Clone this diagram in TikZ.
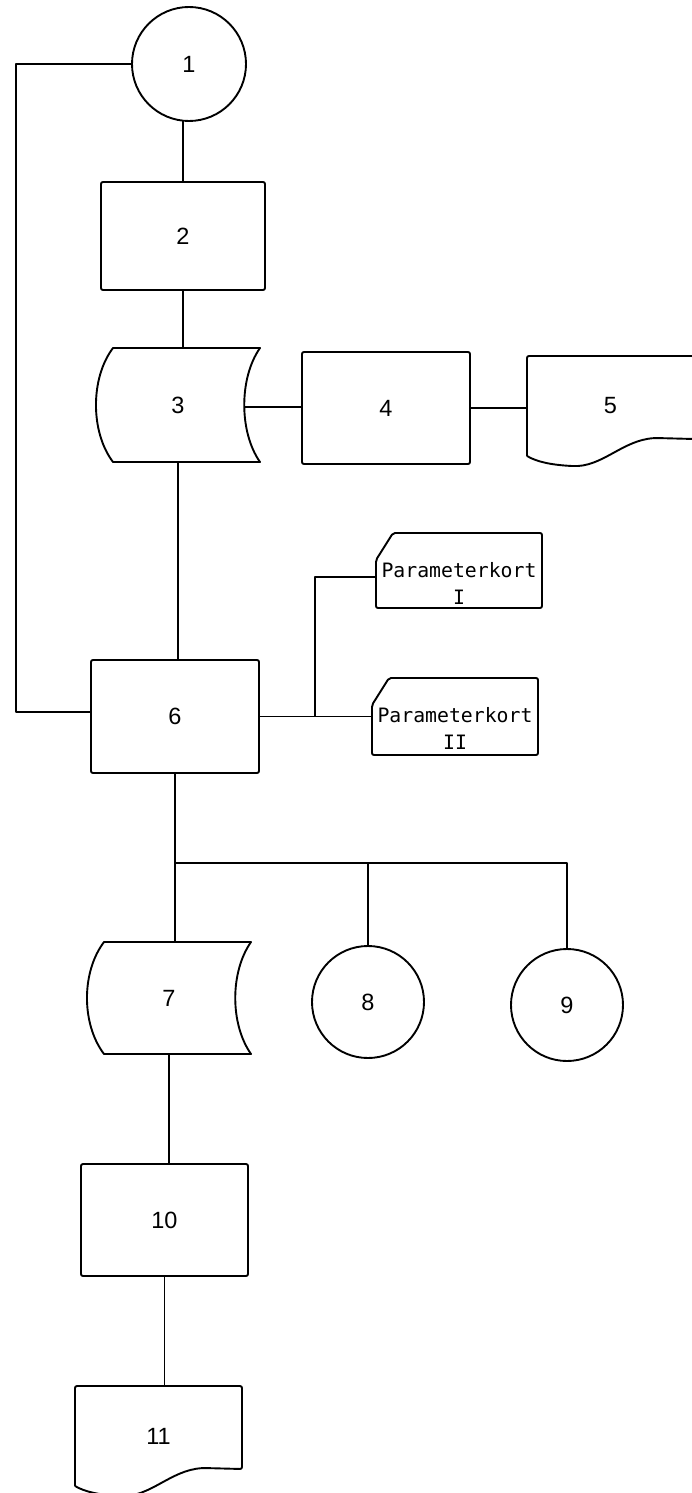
\documentclass[tikz,border=0pt]{standalone}
\usepackage{fontspec}
\setmainfont{Liberation Sans}
\newfontfamily\cardfont{DejaVu Sans Mono}
\usetikzlibrary{calc}

\tikzset{
  line/.style={line width=1.9pt, line join=round},
  shapebox/.style={draw=none, rectangle, inner sep=0pt, outer sep=0pt},
  procbox/.style={draw, line width=1.9pt, rectangle, rounded corners=2pt, inner sep=0pt, outer sep=0pt},
  circ/.style={draw, line width=1.9pt, circle, inner sep=0pt, outer sep=0pt},
  numfont/.style={font=\fontsize{23.5}{28}\selectfont},
  cardtext/.style={font=\cardfont\fontsize{19.8}{27}\selectfont, align=center, inner sep=0pt},
}

% stored-data outline: left side bulges out, right side curves in
\newcommand{\storedshape}[1]{%
  \draw[line] ($(#1.north west)+(17,0)$) -- (#1.north east)
    .. controls ($(#1.north east)+(-21,30)$) and ($(#1.south east)+(-21,-30)$) .. (#1.south east)
    -- ($(#1.south west)+(17,0)$)
    .. controls ($(#1.south west)+(-5.7,-30)$) and ($(#1.north west)+(-5.7,30)$) .. cycle;}
% document outline with wavy bottom
\newcommand{\docshape}[1]{%
  \draw[line, rounded corners=2pt] (#1.south west) -- (#1.north west) -- (#1.north east) -- ($(#1.north east)+(0,83)$) -- ($(#1.north west)+(129,82)$)
    [sharp corners] .. controls ($(#1.north west)+(95,84)$) and ($(#1.north west)+(75,112)$) .. ($(#1.north west)+(45,110)$)
    .. controls ($(#1.north west)+(25,109)$) and ($(#1.north west)+(10,106)$) .. (#1.south west);}
% punched card outline with cut corner
\newcommand{\cardshape}[1]{%
  \draw[line, rounded corners=2pt] ($(#1.north west)+(0,27)$) -- ($(#1.north west)+(17,0)$) -- (#1.north east) -- (#1.south east) -- (#1.south west) -- cycle;}

\begin{document}
\begin{tikzpicture}[x=1pt, y=-1pt]
\useasboundingbox (0,0) rectangle (691,1493);

% nodes
\node[circ, numfont, minimum size=114] (n1) at (189,64) {1};
\node[procbox, numfont, minimum width=164, minimum height=108] (n2) at (183,236) {2};
\node[shapebox, numfont, minimum width=164, minimum height=114] (n3) at (178,405) {3};
\node[procbox, numfont, minimum width=168, minimum height=112] (n4) at (386,408) {4};
\node[shapebox, numfont, minimum width=167, minimum height=100] (n5) at (610.5,406) {5};
\node[procbox, numfont, minimum width=168, minimum height=113] (n6) at (175,716.5) {6};
\node[shapebox, minimum width=166, minimum height=75] (P1) at (459,570.5) {};
\node[cardtext] (P1t) at ($(P1.center)+(0,13)$) {Parameterkort\\I};
\node[shapebox, minimum width=166, minimum height=77] (P2) at (455,716.5) {};
\node[cardtext] (P2t) at ($(P2.center)+(0,12)$) {Parameterkort\\II};
\node[shapebox, numfont, minimum width=164, minimum height=112] (n7) at (169,998) {7};
\node[circ, numfont, minimum size=112] (n8) at (368,1002) {8};
\node[circ, numfont, minimum size=112] (n9) at (567,1005) {9};
\node[procbox, numfont, minimum width=167, minimum height=112] (n10) at (164.5,1220) {10};
\node[shapebox, numfont, minimum width=167, minimum height=100] (n11) at (158.5,1436) {11};

% outlines
\storedshape{n3}
\storedshape{n7}
\docshape{n5}
\docshape{n11}
\cardshape{P1}
\cardshape{P2}

% connectors
\draw[line] (n2.north |- n1.south) -- (n2.north);
\draw[line] (n2.south) -- (n2.south |- n3.north);
\coordinate (n3c) at ($(n3.east)+(-16,2)$);
\draw[line] (n3c) -- (n3c -| n4.west);
\draw[line] (n4.east) -- (n4.east -| n5.west);
\draw[line] (n3.south) -- (n3.south |- n6.north);
\coordinate (lp) at (16,712);
\draw[line] (n1.west) -| (lp) -- (lp -| n6.west);
\coordinate (pj) at (315,0);
\draw[line] (n6.east) -- (n6.east -| P2.west);
\path (P1.west) ++(0,6.5) coordinate (p1in);
\draw[line] (pj |- n6.east) |- (p1in);
\draw[line] (n6.south) -- (n6.south |- n7.north);
\coordinate (brY) at (0,863);
\coordinate (br) at (n6.south |- brY);
\draw[line] (br) -- (br -| n9.north) -- (n9.north);
\draw[line] (br -| n8.north) -- (n8.north);
\draw[line] (n7.south) -- (n7.south |- n10.north);
\draw[line] (n10.south) -- (n10.south |- n11.north);
\end{tikzpicture}
\end{document}
